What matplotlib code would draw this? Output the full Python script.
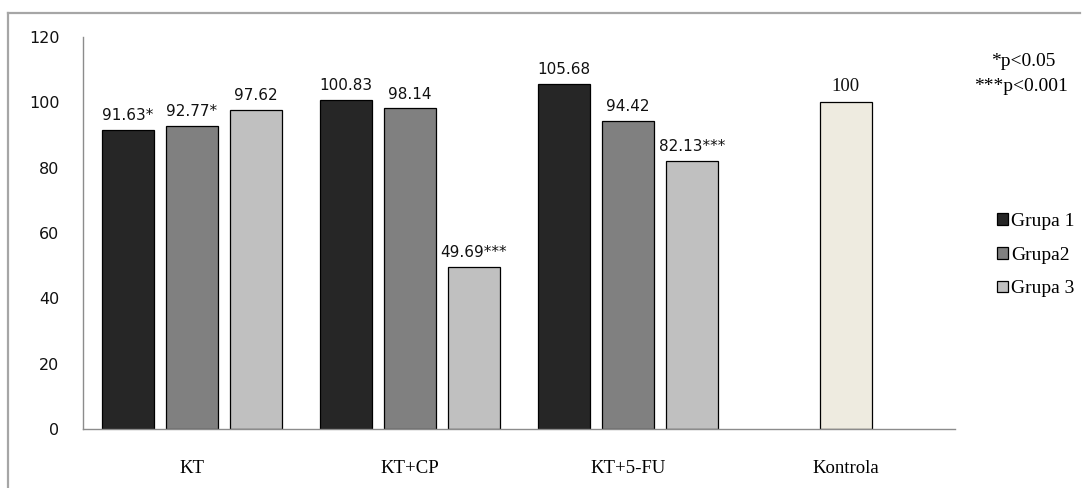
import numpy as np
import matplotlib
matplotlib.use('Agg')
from matplotlib import pyplot as plt
from matplotlib.lines import Line2D

# dane
categories = ['KT', 'KT+CP', 'KT+5-FU', 'Kontrola']
series_names = ['Grupa 1', 'Grupa2', 'Grupa 3']
grupa1 = [91.63, 100.83, 105.68]
grupa2 = [92.77, 98.14, 94.42]
grupa3 = [97.62, 49.69, 82.13]
grupa1_lbl = ['91.63*', '100.83', '105.68']
grupa2_lbl = ['92.77*', '98.14', '94.42']
grupa3_lbl = ['97.62', '49.69***', '82.13***']
kontrola = 100
kontrola_lbl = '100'
y_ticks = [0, 20, 40, 60, 80, 100, 120]

colors = ['#262626', '#808080', '#c0c0c0']
kontrola_color = '#eeebe0'
serif = ['Liberation Serif', 'DejaVu Serif']

fig = plt.figure(figsize=(10.83, 4.88), dpi=100)
ax = fig.add_axes([0.0766, 0.121, 0.805, 0.803])

w = 0.24
step = 0.294
x = np.arange(3)
for i, (vals, lbls) in enumerate(zip([grupa1, grupa2, grupa3],
                                     [grupa1_lbl, grupa2_lbl, grupa3_lbl])):
    pos = x + (i - 1) * step
    ax.bar(pos, vals, width=w, color=colors[i], edgecolor='black',
           linewidth=0.9, label=series_names[i])
    for px, v, t in zip(pos, vals, lbls):
        ax.annotate(t, (px, v), xytext=(0, 5), textcoords='offset points',
                    ha='center', va='bottom', fontsize=11, color='#111111')

ax.bar(3, kontrola, width=w, color=kontrola_color, edgecolor='black', linewidth=0.9)
ax.annotate(kontrola_lbl, (3, kontrola), xytext=(0, 5), textcoords='offset points',
            ha='center', va='bottom', fontsize=13.5, family=serif, color='#111111')

ax.set_xlim(-0.5, 3.5)
ax.set_ylim(0, 120)
ax.set_yticks(y_ticks)
ax.set_xticks(np.arange(4))
ax.set_xticklabels(categories, family=serif, fontsize=13.5)
ax.tick_params(axis='both', length=0)
ax.tick_params(axis='y', pad=17, labelsize=11.5, labelcolor='#111111')
ax.tick_params(axis='x', pad=22)
for s in ['top', 'right']:
    ax.spines[s].set_visible(False)
for s in ['left', 'bottom']:
    ax.spines[s].set_color('#8c8c8c')
    ax.spines[s].set_linewidth(1.0)

leg = fig.legend(loc='center left', bbox_to_anchor=(0.912, 0.477), frameon=False,
                 prop={'family': serif, 'size': 14}, handlelength=0.55,
                 handleheight=0.55, handletextpad=0.15, labelspacing=0.85,
                 borderpad=0)

fig.text(0.945, 0.873, '*p<0.05', ha='center', va='center', family=serif, fontsize=14)
fig.text(0.943, 0.822, '***p<0.001', ha='center', va='center', family=serif, fontsize=14)

# ramka wokół wykresu (tylko góra i lewa strona)
fig.add_artist(Line2D([0.0074, 0.997], [0.973, 0.973], color='#a6a6a6', lw=1.6))
fig.add_artist(Line2D([0.0074, 0.0074], [0.0, 0.973], color='#a6a6a6', lw=1.6))

fig.savefig('out.png', dpi=100)
